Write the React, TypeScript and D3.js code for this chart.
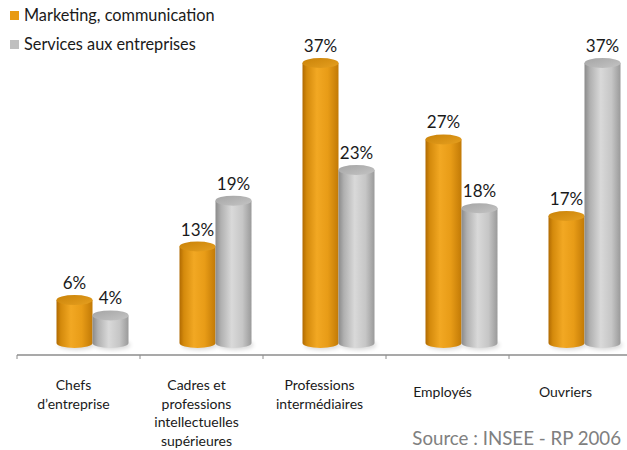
import React from "react";
import * as d3 from "d3";

const categories = ["Chefs d'entreprise", "Cadres et professions intellectuelles supérieures", "Professions intermédiaires", "Employés", "Ouvriers"];
const categoryLines = [["Chefs", "d\u2019entreprise"], ["Cadres et", "professions", "intellectuelles", "supérieures"], ["Professions", "intermédiaires"], ["Employés"], ["Ouvriers"]];
const seriesNames = ["Marketing, communication", "Services aux entreprises"];
const marketing = [6, 13, 37, 27, 17];
const services = [4, 19, 23, 18, 37];
const sourceText = "Source : INSEE - RP 2006";

const W = 627, H = 450;
const FONT = "Lato, 'Open Sans', sans-serif";

export default function App() {
  const x = d3.scaleBand<string>().domain(categories).range([17, 632]).padding(0);
  const y = d3.scaleLinear().domain([0, 40]).range([346, 40]);
  const axisY = 355;
  const barW = 36;
  const rx = barW / 2, ry = 5;
  const depthShift = 14;
  const series = [
    { name: seriesNames[0], values: marketing, grad: "gOrange", top: "tOrange", off: -18 },
    { name: seriesNames[1], values: services, grad: "gGray", top: "tGray", off: 18 },
  ];
  const bottom = y(0) - 3;

  const cyl = (cx: number, yt: number) => {
    const x0 = cx - rx, x1 = cx + rx;
    return `M${x0},${yt} V${bottom} A${rx},${ry} 0 0 0 ${x1},${bottom} V${yt} Z`;
  };

  return (
    <svg width={W} height={H} style={{ display: "block", position: "absolute", left: 0, top: 0 }}>
      <defs>
        <linearGradient id="gOrange" x1="0" x2="1" y1="0" y2="0">
          <stop offset="0" stopColor="#b06a02" />
          <stop offset="0.12" stopColor="#d48a0c" />
          <stop offset="0.4" stopColor="#f2a823" />
          <stop offset="0.7" stopColor="#e89c17" />
          <stop offset="1" stopColor="#c27a06" />
        </linearGradient>
        <linearGradient id="gGray" x1="0" x2="1" y1="0" y2="0">
          <stop offset="0" stopColor="#8a8a8a" />
          <stop offset="0.15" stopColor="#b0b0b0" />
          <stop offset="0.45" stopColor="#d9d9d9" />
          <stop offset="0.75" stopColor="#c6c6c6" />
          <stop offset="1" stopColor="#9a9a9a" />
        </linearGradient>
        <linearGradient id="tOrange" x1="0" x2="1" y1="0" y2="1">
          <stop offset="0" stopColor="#c98208" />
          <stop offset="1" stopColor="#e6a020" />
        </linearGradient>
        <linearGradient id="tGray" x1="0" x2="1" y1="0" y2="1">
          <stop offset="0" stopColor="#a4a4a4" />
          <stop offset="1" stopColor="#c4c4c4" />
        </linearGradient>
        <filter id="shadow" x="-30%" y="-30%" width="160%" height="160%">
          <feGaussianBlur stdDeviation="2" />
        </filter>
      </defs>

      {/* legend */}
      {series.map((s, i) => (
        <g key={s.name} transform={`translate(10, ${11 + i * 29})`}>
          <rect x={0} y={0} width={9} height={9} fill={i === 0 ? "#e89a12" : "#bfbfbf"} />
          <text x={14} y={10} fontFamily={FONT} fontSize={16.3} fill="#1a1a1a">{s.name}</text>
        </g>
      ))}

      {/* axis */}
      <line x1={17} x2={W} y1={axisY} y2={axisY} stroke="#8c8c8c" strokeWidth={1.5} />
      {categories.map((c) => (
        <line key={c} x1={x(c)!} x2={x(c)!} y1={axisY} y2={axisY + 4} stroke="#8c8c8c" strokeWidth={1} />
      ))}

      {/* bars */}
      {series.map((s) => (
        <g key={s.name}>
          {s.values.map((v, i) => {
            const cx = x(categories[i])! + x.bandwidth() / 2 + depthShift + s.off;
            const yt = y(v);
            return (
              <g key={i}>
                <ellipse cx={cx + 2} cy={bottom + 2} rx={rx} ry={ry} fill="#000" opacity={0.15} filter="url(#shadow)" />
                <path d={cyl(cx, yt)} fill={`url(#${s.grad})`} />
                <ellipse cx={cx} cy={yt} rx={rx} ry={ry} fill={`url(#${s.top})`} />
                <text x={cx} y={yt - 11} textAnchor="middle" fontFamily={FONT} fontSize={17} fill="#1a1a1a">{v}%</text>
              </g>
            );
          })}
        </g>
      ))}

      {/* category labels */}
      {categories.map((c, i) => {
        const lines = categoryLines[i];
        const cx = x(c)! + x.bandwidth() / 2 - 5;
        const y0 = lines.length === 1 ? 397 : 390;
        return (
          <text key={c} textAnchor="middle" fontFamily={FONT} fontSize={14} fill="#1a1a1a">
            {lines.map((l, j) => (
              <tspan key={j} x={cx} y={y0 + j * 18.5}>{l}</tspan>
            ))}
          </text>
        );
      })}

      <text x={621} y={445} textAnchor="end" fontFamily={FONT} fontSize={18.7} fill="#808080">{sourceText}</text>
    </svg>
  );
}
